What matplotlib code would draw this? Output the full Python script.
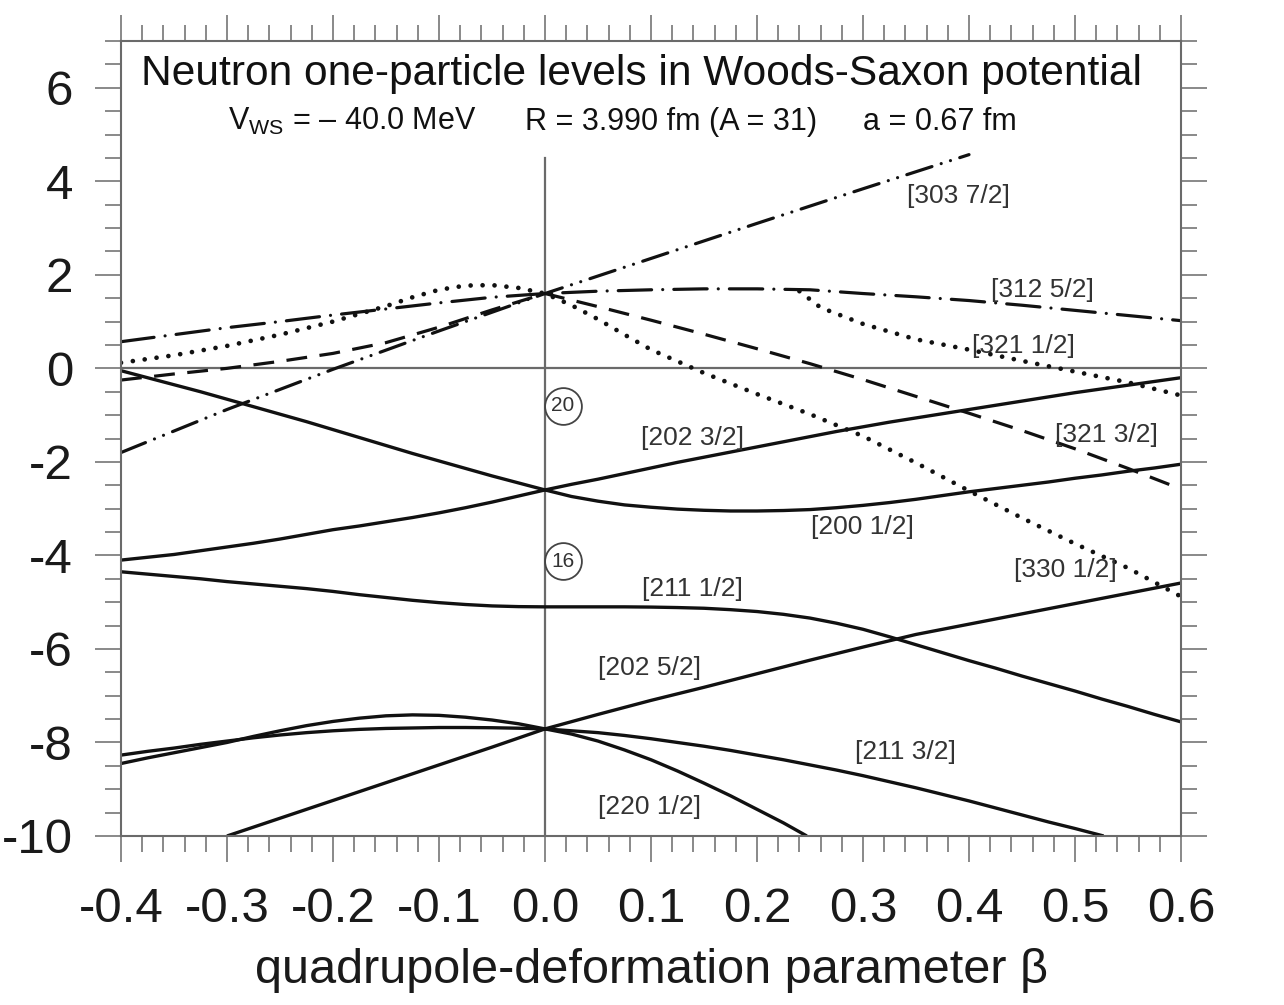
import matplotlib
matplotlib.use("Agg")
import matplotlib.pyplot as plt
from matplotlib.ticker import MultipleLocator, FormatStrFormatter

plt.rcParams["font.family"] = ["Liberation Sans", "DejaVu Sans"]
plt.rcParams["axes.unicode_minus"] = False
plt.rcParams["lines.scale_dashes"] = False
plt.rcParams["mathtext.fontset"] = "custom"
plt.rcParams["mathtext.rm"] = "Liberation Sans"
plt.rcParams["mathtext.it"] = "Liberation Sans:italic"

# fine deformation grid, -0.4 .. 0.6 in steps of 0.025
beta_fine = [-0.400, -0.375, -0.350, -0.325, -0.300, -0.275, -0.250, -0.225, -0.200, -0.175,
             -0.150, -0.125, -0.100, -0.075, -0.050, -0.025, 0.000, 0.025, 0.050, 0.075,
             0.100, 0.125, 0.150, 0.175, 0.200, 0.225, 0.250, 0.275, 0.300, 0.325,
             0.350, 0.375, 0.400, 0.425, 0.450, 0.475, 0.500, 0.525, 0.550, 0.575, 0.600]

# coarse grid, -0.4 .. 0.6 in steps of 0.05
beta_full = [-0.40, -0.35, -0.30, -0.25, -0.20, -0.15, -0.10, -0.05, 0.00, 0.05,
             0.10, 0.15, 0.20, 0.25, 0.30, 0.35, 0.40, 0.45, 0.50, 0.55, 0.60]

# sd-shell levels (MeV)
e_200_12 = [-0.05, -0.20, -0.35, -0.50, -0.66, -0.82, -0.98, -1.14, -1.31, -1.48,
            -1.65, -1.82, -1.98, -2.14, -2.30, -2.45, -2.60, -2.74, -2.84, -2.92,
            -2.97, -3.01, -3.035, -3.05, -3.05, -3.04, -3.02, -2.98, -2.93, -2.87,
            -2.80, -2.72, -2.64, -2.57, -2.50, -2.43, -2.35, -2.28, -2.20, -2.13, -2.05]
e_202_32 = [-4.10, -4.04, -3.98, -3.90, -3.82, -3.74, -3.65, -3.55, -3.45, -3.37,
            -3.28, -3.19, -3.09, -2.98, -2.86, -2.73, -2.60, -2.48, -2.37, -2.25,
            -2.13, -2.01, -1.90, -1.79, -1.68, -1.57, -1.46, -1.35, -1.25, -1.15,
            -1.06, -0.97, -0.88, -0.79, -0.70, -0.61, -0.52, -0.44, -0.36, -0.28, -0.20]
e_211_12 = [-4.35, -4.40, -4.45, -4.50, -4.56, -4.61, -4.66, -4.71, -4.77, -4.84,
            -4.90, -4.96, -5.01, -5.05, -5.08, -5.095, -5.10, -5.10, -5.10, -5.10,
            -5.105, -5.115, -5.13, -5.16, -5.20, -5.26, -5.34, -5.45, -5.58, -5.74,
            -5.91, -6.08, -6.25, -6.41, -6.58, -6.74, -6.90, -7.07, -7.23, -7.40, -7.56]

beta_202_52 = [-0.30, -0.25, -0.20, -0.15, -0.10, -0.05, 0.00, 0.05, 0.10, 0.15,
               0.20, 0.25, 0.30, 0.35, 0.40, 0.45, 0.50, 0.55, 0.60]
e_202_52 = [-10.0, -9.62, -9.24, -8.86, -8.48, -8.10, -7.71, -7.40, -7.10, -6.82,
            -6.53, -6.24, -5.96, -5.69, -5.47, -5.25, -5.03, -4.81, -4.59]

beta_obl = [-0.400, -0.375, -0.350, -0.325, -0.300, -0.275, -0.250, -0.225, -0.200,
            -0.175, -0.150, -0.125, -0.100, -0.075, -0.050, -0.025, 0.000]
e_obl_a = [-8.45, -8.33, -8.22, -8.11, -8.00, -7.87, -7.75, -7.64, -7.55,
           -7.48, -7.43, -7.41, -7.42, -7.46, -7.52, -7.60, -7.71]
e_obl_b = [-8.27, -8.19, -8.12, -8.04, -7.97, -7.90, -7.84, -7.79, -7.75,
           -7.72, -7.70, -7.69, -7.68, -7.68, -7.685, -7.695, -7.71]

beta_211_32 = [0.000, 0.025, 0.050, 0.075, 0.100, 0.125, 0.150, 0.175, 0.200, 0.225, 0.250,
               0.275, 0.300, 0.325, 0.350, 0.375, 0.400, 0.425, 0.450, 0.475, 0.500, 0.527]
e_211_32 = [-7.71, -7.75, -7.79, -7.85, -7.92, -8.00, -8.08, -8.17, -8.27, -8.37, -8.48,
            -8.59, -8.71, -8.84, -8.97, -9.11, -9.25, -9.40, -9.55, -9.70, -9.84, -10.0]

beta_220_12 = [0.000, 0.025, 0.050, 0.075, 0.100, 0.125, 0.150, 0.175, 0.200, 0.225, 0.247]
e_220_12 = [-7.71, -7.82, -7.97, -8.16, -8.37, -8.61, -8.87, -9.14, -9.43, -9.72, -10.0]

# fp-shell levels (MeV)
beta_303_72 = [-0.40, -0.30, -0.20, -0.10, 0.00, 0.10, 0.20, 0.30, 0.40]
e_303_72 = [-1.80, -0.88, -0.02, 0.80, 1.60, 2.35, 3.10, 3.84, 4.57]

e_312_52 = [0.57, 0.72, 0.87, 1.00, 1.14, 1.27, 1.40, 1.52, 1.60, 1.65,
            1.68, 1.70, 1.70, 1.68, 1.60, 1.53, 1.45, 1.35, 1.24, 1.13, 1.02]
e_321_32 = [-0.25, -0.12, 0.00, 0.15, 0.32, 0.55, 0.88, 1.25, 1.60, 1.32,
            1.03, 0.73, 0.42, 0.10, -0.24, -0.60, -0.96, -1.33, -1.72, -2.14, -2.58]

beta_330_12 = [-0.40, -0.35, -0.30, -0.25, -0.20, -0.15, -0.125, -0.10, -0.075, -0.05,
               -0.025, 0.00, 0.025, 0.05, 0.075, 0.10, 0.15, 0.20, 0.25, 0.30,
               0.35, 0.40, 0.45, 0.50, 0.55, 0.60]
e_330_12 = [0.12, 0.28, 0.48, 0.72, 1.00, 1.33, 1.52, 1.68, 1.77, 1.78,
            1.72, 1.60, 1.35, 1.05, 0.72, 0.40, -0.10, -0.55, -0.98, -1.45,
            -2.02, -2.62, -3.20, -3.75, -4.27, -4.88]

beta_321_12 = [0.24, 0.26, 0.30, 0.35, 0.40, 0.45, 0.50, 0.55, 0.60]
e_321_12 = [1.65, 1.30, 0.95, 0.62, 0.40, 0.16, -0.07, -0.30, -0.58]

# Nilsson labels
label_text = ["[303 7/2]", "[312 5/2]", "[321 1/2]", "[202 3/2]", "[321 3/2]", "[200 1/2]",
              "[330 1/2]", "[211 1/2]", "[202 5/2]", "[211 3/2]", "[220 1/2]"]
label_x = [0.390, 0.469, 0.451, 0.139, 0.530, 0.299, 0.491, 0.139, 0.099, 0.340, 0.099]
label_y = [3.69, 1.68, 0.48, -1.49, -1.42, -3.39, -4.31, -4.72, -6.41, -8.20, -9.38]

# magic numbers at the gaps
magic_text = ["20", "16"]
magic_x = [0.017, 0.017]
magic_y = [-0.80, -4.12]

fig = plt.figure(figsize=(12.84, 10.05), dpi=100)
ax = fig.add_axes([0.09424, 0.16816, 0.82555, 0.79104])

ink = "#111111"
grey = "#6a6a6a"

ax.axhline(0, color=grey, lw=1.6, zorder=1)
ax.plot([0, 0], [-10, 4.5], color=grey, lw=1.6, zorder=1)

solid = dict(color=ink, lw=2.4, solid_capstyle="butt", solid_joinstyle="round")
ax.plot(beta_fine, e_200_12, **solid)
ax.plot(beta_fine, e_202_32, **solid)
ax.plot(beta_fine, e_211_12, **solid)
ax.plot(beta_202_52, e_202_52, **solid)
ax.plot(beta_obl, e_obl_a, **solid)
ax.plot(beta_obl, e_obl_b, **solid)
ax.plot(beta_211_32, e_211_32, **solid)
ax.plot(beta_220_12, e_220_12, **solid)

ax.plot(beta_303_72, e_303_72, color=ink, lw=2.3, dashes=(19, 7, 0.01, 7, 0.01, 7),
        dash_capstyle="round")
ax.plot(beta_full, e_312_52, color=ink, lw=2.3, dashes=(24, 8, 0.01, 8),
        dash_capstyle="round")
ax.plot(beta_full, e_321_32, color=ink, lw=2.3, dashes=(15, 9))
ax.plot(beta_330_12, e_330_12, color=ink, lw=3.4, dashes=(0.01, 8.6), dash_capstyle="round")
ax.plot(beta_321_12, e_321_12, color=ink, lw=3.4, dashes=(0.01, 8.6), dash_capstyle="round")

for t, x, y in zip(label_text, label_x, label_y):
    ax.text(x, y, t, fontsize=19, color="#333333", ha="center", va="center")

for t, x, y in zip(magic_text, magic_x, magic_y):
    ax.plot(x, y, marker="o", ms=26.5, mfc="white", mec="#444444", mew=1.3, zorder=4)
    ax.text(x, y, t, fontsize=15, color="#333333", ha="center", va="center", zorder=5)

ax.text(0.091, 6.05, "Neutron one-particle levels in Woods-Saxon potential",
        fontsize=30.6, color=ink, ha="center", va="baseline")
ax.text(-0.299, 5.1, "V$_{\\mathrm{WS}}$ = \u2013 40.0 MeV",
        fontsize=22, color=ink, ha="left", va="baseline")
ax.text(-0.019, 5.1, "R = 3.990 fm (A = 31)", fontsize=22, color=ink, ha="left", va="baseline")
ax.text(0.300, 5.1, "a = 0.67 fm", fontsize=22, color=ink, ha="left", va="baseline")

ax.set_xlim(-0.4, 0.6)
ax.set_ylim(-10, 7)
ax.xaxis.set_major_locator(MultipleLocator(0.1))
ax.xaxis.set_minor_locator(MultipleLocator(0.02))
ax.yaxis.set_major_locator(MultipleLocator(2))
ax.yaxis.set_minor_locator(MultipleLocator(0.5))
ax.xaxis.set_major_formatter(FormatStrFormatter("%.1f"))
ax.set_yticks([-10, -8, -6, -4, -2, 0, 2, 4, 6])

for side in ["left", "right", "top", "bottom"]:
    ax.spines[side].set_color(grey)
    ax.spines[side].set_linewidth(1.5)

ax.tick_params(which="both", direction="out", top=True, right=True, color=grey, width=1.1,
               labelsize=35.5, labelcolor="#1a1a1a")
ax.tick_params(which="major", length=18.5)
ax.tick_params(which="minor", length=11.5)
ax.tick_params(axis="x", pad=18)
ax.tick_params(axis="y", pad=16)

ax.set_xlabel("quadrupole-deformation parameter \u03b2", fontsize=35, color="#1a1a1a",
              labelpad=12)

fig.savefig("out.png", dpi=100)
